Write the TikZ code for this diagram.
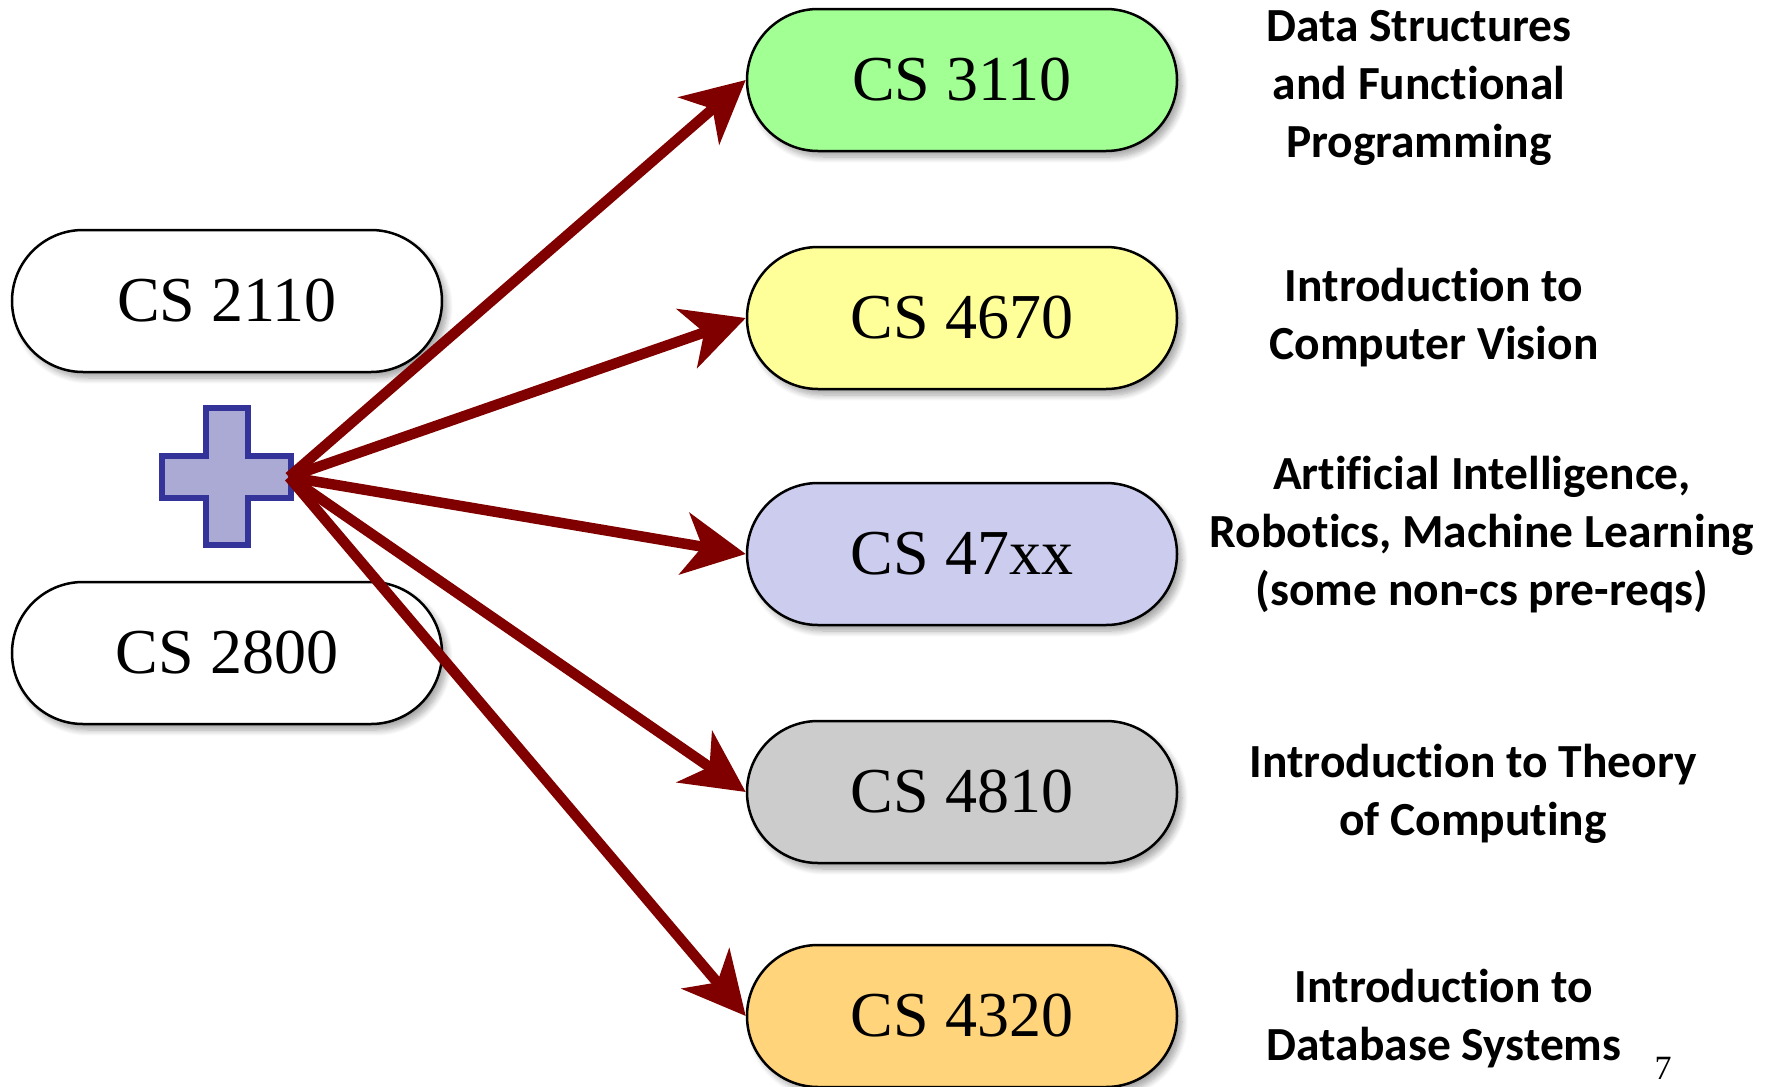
\documentclass[tikz,border=0pt]{standalone}
\usepackage{fontspec}
\setmainfont{Liberation Serif}
\newfontfamily\topicfont[Ligatures=NoCommon]{Carlito}
\usetikzlibrary{shapes.misc,arrows.meta,shadows.blur}

\definecolor{arrowred}{HTML}{800000}
\definecolor{plusfill}{HTML}{AAAAD4}
\definecolor{plusdraw}{HTML}{333399}
\definecolor{cgreen}{HTML}{A1FF94}
\definecolor{cyellow}{HTML}{FFFF99}
\definecolor{clavender}{HTML}{CCCCEE}
\definecolor{cgray}{HTML}{CCCCCC}
\definecolor{corange}{HTML}{FFD47A}

\begin{document}
\begin{tikzpicture}[x=1pt,y=-1pt,
  course/.style={rounded rectangle, draw=black, line width=2.5pt,
    minimum width=430pt, minimum height=142pt, inner sep=0pt,
    font=\fontsize{64}{70}\selectfont,
    blur shadow={shadow xshift=5pt, shadow yshift=-6pt, shadow blur steps=8,
      shadow blur radius=6pt, shadow opacity=35}},
  topic/.style={align=center, inner sep=0pt,
    font=\topicfont\bfseries\fontsize{47.5}{58}\selectfont},
  prereq/.style={draw=arrowred, line width=10.5pt,
    -{Stealth[length=62pt,width=62pt,inset=18pt]}}]

\useasboundingbox (0,0) rectangle (1773,1087);

% required courses
\node[course, fill=white] (c2110) at (227,301) {CS 2110};
\node[course, fill=white] (c2800) at (227,653) {CS 2800};

% follow-on courses
\node[course, fill=cgreen]    (c3110) at (962,80)   {CS 3110};
\node[course, fill=cyellow]   (c4670) at (962,318)  {CS 4670};
\node[course, fill=clavender] (c47xx) at (962,554)  {CS 47xx};
\node[course, fill=cgray]     (c4810) at (962,792)  {CS 4810};
\node[course, fill=corange]   (c4320) at (962,1016) {CS 4320};

% course descriptions
\node[topic] (t3110) at (1419,88)  {Data Structures\\and Functional\\Programming};
\node[topic] (t4670) at (1434,318) {Introduction to\\Computer Vision};
\node[topic] (t47xx) at (1482,535) {Artificial Intelligence,\\Robotics, Machine Learning\\(some non-cs pre-reqs)};
\node[topic] (t4810) at (1473,794) {Introduction to Theory\\of Computing};
\node[topic] (t4320) at (1444,1019) {Introduction to\\Database Systems};

% plus sign joining the two prerequisites
\draw[plusdraw, fill=plusfill, line width=6pt, line join=miter]
  (206,408) -- (248,408) -- (248,456) -- (291,456) -- (291,498) -- (248,498)
  -- (248,545) -- (206,545) -- (206,498) -- (162,498) -- (162,456) -- (206,456) -- cycle;
\coordinate (plus) at (289,477);

% arrows to each follow-on course
\draw[prereq] (plus) -- (c3110.west);
\draw[prereq] (plus) -- (c4670.west);
\draw[prereq] (plus) -- (c47xx.west);
\draw[prereq] (plus) -- (c4810.west);
\draw[prereq] (plus) -- (c4320.west);

% page number
\node[anchor=base, inner sep=0pt, font=\fontsize{34}{40}\selectfont] (page) at (1663,1079) {7};
\end{tikzpicture}
\end{document}
